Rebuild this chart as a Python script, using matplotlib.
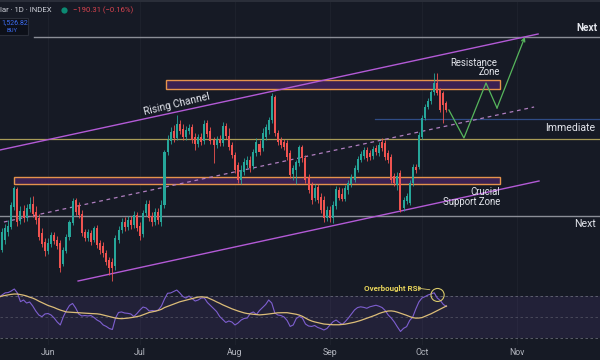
import numpy as np
import pandas as pd
import matplotlib
matplotlib.use("Agg")
import matplotlib.pyplot as plt
import matplotlib.dates as mdates
from matplotlib.patches import Rectangle, Ellipse
from matplotlib.lines import Line2D

# ---------------- data ----------------
start = pd.Timestamp("2023-05-16")

opens = [1055, 1050, 1060, 1068, 1073, 1093, 1111, 1079, 1089, 1082,
         1091, 1096, 1088, 1082, 1067, 1058, 1049, 1056, 1065, 1060,
         1057, 1036, 1049, 1063, 1077, 1100, 1095, 1086, 1068, 1062,
         1067, 1060, 1072, 1057, 1054, 1047, 1040, 1038, 1034, 1060,
         1070, 1078, 1073, 1080, 1075, 1085, 1074, 1066, 1087, 1096,
         1084, 1078, 1088, 1078, 1095, 1148, 1159, 1169, 1162, 1176,
         1171, 1163, 1169, 1173, 1163, 1156, 1163, 1159, 1177, 1169,
         1160, 1155, 1161, 1157, 1174, 1164, 1155, 1145, 1135, 1120,
         1128, 1135, 1140, 1134, 1147, 1156, 1152, 1163, 1170, 1180,
         1203, 1167, 1160, 1158, 1157, 1147, 1126, 1130, 1137, 1153,
         1142, 1123, 1115, 1102, 1113, 1103, 1100, 1082, 1090, 1082,
         1094, 1110, 1106, 1101, 1110, 1116, 1120, 1130, 1140, 1144,
         1150, 1147, 1144, 1152, 1147, 1158, 1157, 1147, 1143, 1124,
         1115, 1127, 1092, 1099, 1097, 1117, 1133, 1133, 1163, 1182,
         1193, 1199, 1208, 1217, 1210, 1207, 1197]
highs = [1068, 1072, 1076, 1080, 1098, 1114, 1113, 1094, 1095, 1096,
         1103, 1104, 1094, 1086, 1072, 1062, 1062, 1068, 1068, 1064,
         1060, 1053, 1066, 1080, 1102, 1102, 1098, 1090, 1071, 1071,
         1070, 1074, 1075, 1060, 1058, 1050, 1043, 1042, 1065, 1074,
         1082, 1083, 1084, 1084, 1089, 1088, 1078, 1090, 1100, 1100,
         1088, 1092, 1092, 1100, 1150, 1165, 1173, 1175, 1185, 1180,
         1176, 1174, 1176, 1176, 1167, 1166, 1167, 1180, 1180, 1173,
         1163, 1164, 1165, 1178, 1177, 1172, 1158, 1148, 1138, 1135,
         1142, 1144, 1144, 1151, 1162, 1160, 1172, 1176, 1183, 1207,
         1205, 1170, 1163, 1161, 1160, 1150, 1135, 1140, 1155, 1155,
         1145, 1126, 1118, 1116, 1116, 1107, 1104, 1094, 1094, 1099,
         1114, 1113, 1112, 1115, 1120, 1126, 1135, 1144, 1149, 1153,
         1153, 1150, 1154, 1155, 1158, 1162, 1160, 1150, 1146, 1127,
         1128, 1130, 1103, 1107, 1120, 1136, 1136, 1168, 1185, 1196,
         1202, 1210, 1227, 1227, 1212, 1209, 1199]
lows = [1038, 1048, 1056, 1064, 1071, 1090, 1074, 1076, 1078, 1079,
        1088, 1083, 1076, 1060, 1053, 1044, 1046, 1053, 1056, 1051,
        1028, 1034, 1047, 1060, 1075, 1085, 1082, 1064, 1059, 1059,
        1055, 1058, 1052, 1046, 1043, 1035, 1025, 1019, 1030, 1057,
        1067, 1069, 1070, 1071, 1072, 1069, 1060, 1063, 1084, 1079,
        1074, 1075, 1076, 1074, 1092, 1145, 1156, 1158, 1160, 1166,
        1160, 1160, 1166, 1157, 1150, 1153, 1155, 1156, 1163, 1156,
        1137, 1152, 1154, 1154, 1161, 1150, 1142, 1127, 1117, 1116,
        1125, 1132, 1128, 1131, 1144, 1145, 1149, 1160, 1166, 1177,
        1164, 1155, 1152, 1150, 1140, 1122, 1120, 1116, 1134, 1138,
        1117, 1107, 1096, 1099, 1097, 1087, 1078, 1079, 1078, 1077,
        1091, 1100, 1099, 1099, 1106, 1113, 1118, 1128, 1138, 1141,
        1139, 1140, 1141, 1145, 1144, 1149, 1140, 1137, 1117, 1114,
        1110, 1088, 1089, 1096, 1095, 1114, 1127, 1131, 1161, 1180,
        1191, 1196, 1205, 1205, 1188, 1177, 1188]
closes = [1043, 1068, 1072, 1074, 1095, 1112, 1078, 1089, 1082, 1092,
          1096, 1086, 1080, 1063, 1056, 1049, 1057, 1065, 1059, 1054,
          1032, 1050, 1063, 1078, 1099, 1088, 1085, 1067, 1062, 1068,
          1058, 1072, 1055, 1050, 1047, 1038, 1032, 1032, 1062, 1070,
          1078, 1073, 1080, 1075, 1085, 1072, 1064, 1087, 1096, 1082,
          1078, 1088, 1080, 1095, 1148, 1160, 1168, 1162, 1176, 1169,
          1163, 1170, 1172, 1160, 1156, 1163, 1158, 1176, 1166, 1159,
          1155, 1161, 1157, 1174, 1164, 1153, 1145, 1130, 1120, 1130,
          1138, 1140, 1132, 1148, 1158, 1148, 1167, 1173, 1180, 1204,
          1167, 1158, 1155, 1153, 1143, 1125, 1132, 1138, 1153, 1142,
          1120, 1110, 1100, 1112, 1100, 1090, 1082, 1090, 1082, 1095,
          1111, 1102, 1101, 1112, 1117, 1123, 1132, 1141, 1146, 1150,
          1142, 1143, 1151, 1148, 1155, 1152, 1143, 1140, 1120, 1117,
          1124, 1090, 1100, 1104, 1117, 1133, 1130, 1165, 1182, 1193,
          1199, 1208, 1217, 1207, 1190, 1195, 1190]

rsi = [69, 71, 73, 73.3, 74.8, 76.7, 72.9, 64.6, 66.2, 63.3,
       64.3, 60.5, 55.7, 51.9, 50.3, 52.9, 53.3, 51.9, 49, 45.2,
       42.4, 50.3, 56.2, 61, 62.9, 58.6, 52.9, 51, 51.4, 51,
       51.4, 49.5, 47.1, 45.5, 42.4, 41, 39, 38.1, 49, 54.3,
       54.8, 53.8, 53.5, 52.9, 50.5, 53.3, 56.7, 59.5, 58.6, 55.7,
       56.2, 55.7, 56.7, 60.5, 67.1, 72.6, 72.9, 74.3, 75.7, 72.9,
       69.5, 68.1, 70, 67.6, 65.2, 66.2, 68.1, 68.1, 63.8, 61,
       58.1, 55.2, 50.5, 47.6, 44.8, 46.2, 45.2, 42.4, 44.3, 47.1,
       48.6, 49, 53.5, 54.8, 52.4, 56.2, 59, 61.9, 66.2, 63.3,
       53.8, 51.9, 51.4, 50, 46.7, 41, 42.4, 48.6, 50.5, 49,
       43.3, 41.4, 41, 41.9, 40, 39, 37.6, 39, 42.4, 45.5,
       47.1, 44.8, 42.9, 45.7, 49, 52.9, 56.7, 59, 59.7, 59.2,
       58.3, 59.7, 60.5, 61.2, 60.3, 59, 56.2, 51.9, 49, 45.2,
       40.5, 36.2, 39.2, 40.8, 46.7, 50, 57.6, 64.3, 68.1, 69.4,
       71, 71.9, 73.1, 68.1, 65.7, 61.9, 60]
rsi_ma = [69, 70, 70.6, 71.1, 71.6, 71.9, 71.9, 71.4, 70.8, 70,
          68.9, 68, 66.7, 65.1, 63.7, 62.2, 61, 60, 59, 57.7,
          56.6, 55.7, 54.8, 54.6, 54.4, 54.2, 54, 53.8, 53.6, 53.4,
          53.3, 53.2, 53, 52.6, 51.9, 51.1, 50.5, 49.8, 49, 48.6,
          48.4, 48.6, 48.9, 49.3, 49.8, 50.4, 51, 52.1, 53.3, 54.3,
          54.9, 55.5, 56.3, 57.3, 59, 60.1, 61.3, 62.4, 63.5, 64.5,
          65.2, 66, 66.8, 67.5, 68.3, 69, 69.2, 69, 68.5, 67.2,
          65.9, 64.4, 63.1, 61.6, 60.3, 59, 57.8, 56.7, 55.7, 54.8,
          53.9, 53.3, 52.9, 52.6, 52.3, 52, 52.2, 52.5, 52.9, 53.2,
          53.7, 54, 54.1, 54.1, 54.1, 53.6, 53.2, 52.6, 51.8, 50.6,
          49.0, 47.4, 46.2, 45.3, 44.6, 43.8, 43.3, 43, 42.8, 42.6,
          42.6, 42.6, 42.9, 43.2, 43.8, 44.4, 45, 45.8, 46.7, 47.8,
          48.8, 49.8, 50.9, 52, 53.3, 54.3, 55.1, 55.7, 55.8, 55.4,
          54.6, 53.6, 52.7, 51.6, 50.4, 49.4, 48.9, 49, 49.4, 50.6,
          51.9, 53.1, 54.6, 56, 57.5, 59, 60.5]

month_ticks = ["2023-06-01", "2023-07-01", "2023-08-01", "2023-09-01", "2023-10-01", "2023-11-01"]
month_labels = ["Jun", "Jul", "Aug", "Sep", "Oct", "Nov"]

# key levels (price) and drawing anchors (day offset from start, price)
next_resistance = 1263
immediate_support = 1181
mid_level = 1161
next_support = 1084
resistance_zone = (1211, 1220)
support_zone = (1116, 1123)
upper_channel = ([0.3, 175.9], [1150, 1266])
lower_channel = ([25.8, 176.2], [1019, 1119])
mid_channel = ([1.6, 174.6], [1078, 1193])
projection_days = [146.8, 151.7, 158.9, 162.5, 171.6]
projection_prices = [1190, 1162, 1217, 1192, 1263]

# ---------------- style ----------------
BG = "#161a25"
UP = "#26a69a"
DN = "#ef5350"
TXT = "#e3e5ec"
PURPLE = "#b35ad6"
plt.rcParams['font.family'] = ['Roboto', 'DejaVu Sans']

fig = plt.figure(figsize=(6, 3.6), dpi=100, facecolor=BG)
ax = fig.add_axes([0, 75 / 360, 1, 285 / 360])
ax2 = fig.add_axes([0, 15 / 360, 1, 60 / 360], sharex=ax)
for a in (ax, ax2):
    a.set_facecolor(BG)
    for s in a.spines.values():
        s.set_visible(False)

base = mdates.date2num(start)
n = len(closes)
x = base + np.arange(n)
o = np.array(opens, float); c = np.array(closes, float)
h = np.array(highs, float); l = np.array(lows, float)
up = c >= o
cols = np.where(up, UP, DN)

tick_x = mdates.date2num(pd.to_datetime(month_ticks))
for a in (ax, ax2):
    for t in tick_x:
        a.axvline(t, color="#1d212c", lw=0.8, zorder=0)

# zones
for (lo_p, hi_p), (d0, d1) in [(resistance_zone, (54.5, 163.5)), (support_zone, (4.9, 163.5))]:
    ax.add_patch(Rectangle((base + d0, lo_p), d1 - d0, hi_p - lo_p, facecolor="#3b2152",
                           edgecolor="#e5934c", lw=1.0, zorder=1))

# horizontal levels
ax.axhline(mid_level, color="#a99c57", lw=0.9, zorder=1)
ax.axhline(next_support, color="#8b8e97", lw=1.0, zorder=1)
ax.plot([base + 11.4, base + 200], [next_resistance] * 2, color="#8b8e97", lw=1.0, zorder=1)
ax.plot([base + 122.7, base + 200], [immediate_support] * 2, color="#2f4c86", lw=0.9, zorder=1)

# channel
ax.plot(base + np.array(upper_channel[0]), upper_channel[1], color=PURPLE, lw=1.0, zorder=2)
ax.plot(base + np.array(lower_channel[0]), lower_channel[1], color=PURPLE, lw=1.0, zorder=2)
ax.plot(base + np.array(mid_channel[0]), mid_channel[1], color="#b07fc0", lw=0.9,
        dashes=(3, 3), zorder=2)

# candles
ax.vlines(x, l, h, colors=cols, lw=0.6, zorder=3)
ax.bar(x, np.maximum(np.abs(c - o), 0.8), bottom=np.minimum(o, c), width=0.66,
       color=cols, linewidth=0, zorder=4)

# projection path
px = base + np.array(projection_days)
ax.plot(px[:-1], projection_prices[:-1], color="#56b65c", lw=0.9, zorder=5)
ax.annotate("", xy=(px[-1], projection_prices[-1]), xytext=(px[-2], projection_prices[-2]),
            arrowprops=dict(arrowstyle="->", color="#56b65c", lw=0.9, mutation_scale=6,
                            shrinkA=0, shrinkB=0), zorder=5)

# texts
fs = 6.9
ax.text(base + 188.3, 1272, "Next", color=TXT, fontsize=7.2, fontweight="bold",
        va="center", ha="left")
ax.text(base + 162.5, 1237, "Resistance", color=TXT, fontsize=fs, va="center", ha="right")
ax.text(base + 163.5, 1228, "Zone", color=TXT, fontsize=fs, va="center", ha="right")
ax.text(base + 58.1, 1196, "Rising Channel", color=TXT, fontsize=7.4, va="center", ha="center",
        rotation=13.5)
ax.text(base + 178.1, 1172, "Immediate", color=TXT, fontsize=7.6, va="center", ha="left")
ax.text(base + 163.5, 1108, "Crucial", color=TXT, fontsize=fs, va="center", ha="right")
ax.text(base + 163.5, 1098, "Support Zone", color=TXT, fontsize=fs, va="center", ha="right")
ax.text(base + 187.6, 1076, "Next", color=TXT, fontsize=7.6, va="center", ha="left")

ax.set_xlim(base + 0.326, base + 196.1)
ax.set_ylim(1015, 1300)
ax.set_yticks([])
ax.tick_params(axis="x", which="both", length=0, labelbottom=False)

# RSI pane
ax2.axhspan(30, 70, color="#7e57c2", alpha=0.12, lw=0, zorder=0)
for lvl, al in [(70, 0.8), (50, 0.5), (30, 0.8)]:
    ax2.axhline(lvl, color="#787b86", lw=0.6, dashes=(3, 3), alpha=al, zorder=1)
ax2.plot(x, rsi, color="#7e5fd0", lw=0.8, zorder=3)
ax2.plot(x, rsi_ma, color="#dcbd78", lw=0.9, zorder=3)
ax2.add_patch(Ellipse((base + 143.1, 71), 4.3, 12.4, fill=False, edgecolor="#d9c96a", lw=0.8, zorder=4))
ax2.annotate("Overbought RSI", xy=(base + 119.1, 77.1), color="#e6d35a", fontsize=5.8,
             fontweight="bold", va="center", ha="left")
ax2.annotate("", xy=(base + 136.5, 77.5), xytext=(base + 140.6, 76.0),
             arrowprops=dict(arrowstyle="->", color="#d9c96a", lw=0.6, mutation_scale=4,
                             shrinkA=0, shrinkB=0))
ax2.set_ylim(23.3, 80.5)
ax2.set_yticks([])
ax2.set_xticks(tick_x)
ax2.set_xticklabels(month_labels)
ax2.tick_params(axis="x", length=0, pad=2.5, labelsize=6.3, labelcolor="#b2b5be")

# header
fig.add_artist(Line2D([0, 1], [1 - 1 / 360] * 2, color="#2a2e39", lw=1.5, transform=fig.transFigure))
fig.text(0, 1 - 10 / 360, "lar · 1D · INDEX", color="#c9ccd4", fontsize=5.6, va="center", ha="left")
fig.add_artist(Line2D([64 / 600], [1 - 10 / 360], marker="o", markersize=4.5, color="#0c8a73",
                      markeredgewidth=0, transform=fig.transFigure))
fig.text(73 / 600, 1 - 10 / 360, "−190.31 (−0.16%)", color="#d8434f", fontsize=5.6, va="center", ha="left")
fig.add_artist(Rectangle((-2 / 600, 1 - 35 / 360), 30 / 600, 17 / 360, transform=fig.transFigure,
                         facecolor="#0d1019", edgecolor="#2a2e39", lw=0.8))
fig.text(1 / 600, 1 - 22.5 / 360, "1,526.82", color="#3d6df2", fontsize=5.0, va="center", ha="left")
fig.text(12 / 600, 1 - 30.5 / 360, "BUY", color="#3d6df2", fontsize=4.2, va="center", ha="center")

fig.savefig("out.png", dpi=100, facecolor=BG)
